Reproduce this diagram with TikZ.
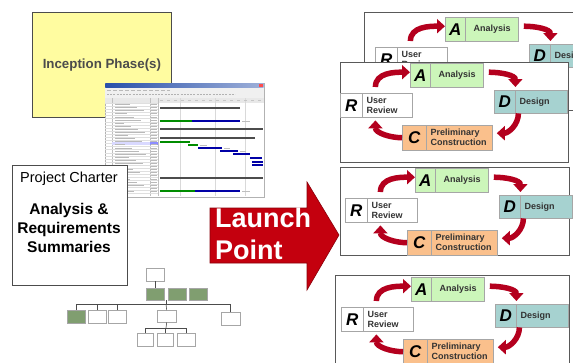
\documentclass[tikz,border=0pt]{standalone}
\usepackage{fontspec}
\setmainfont{Liberation Sans}
\usetikzlibrary{positioning,arrows.meta}

\definecolor{agreen}{RGB}{204,246,186}
\definecolor{dteal}{RGB}{166,210,208}
\definecolor{corange}{RGB}{250,192,140}
\definecolor{cycred}{RGB}{180,0,30}
\definecolor{launchred}{RGB}{196,0,14}
\definecolor{slideyellow}{RGB}{255,252,160}
\definecolor{orggreen}{RGB}{128,158,112}
\definecolor{ganttblue}{RGB}{40,80,170}

\tikzset{
letterbox/.style={draw=gray!70, anchor=north west, minimum height=24pt, inner sep=0pt,
  font=\bfseries\itshape\fontsize{17}{17}\selectfont},
tagbox/.style={draw=gray!70, anchor=north west, minimum height=24pt, inner xsep=4pt, inner ysep=0pt,
  align=left, text=black!80, font=\bfseries\fontsize{9}{10}\selectfont},
cyc/.style={draw=cycred, line width=5.5pt, -{Triangle[length=8pt,width=14pt]}},
cycle/.pic={
  %Boxes
  \node[letterbox, fill=agreen, minimum width=20pt] (-a) at (0,0) {A};
  \node[tagbox, fill=agreen, minimum width=53pt, align=center] (-at) at (-a.north east) {Analysis};
  \node[letterbox, fill=white, minimum width=22pt] (-r) at (-70,30) {R};
  \node[tagbox, fill=white, text width=42pt] (-rt) at (-r.north east) {User\\Review};
  \node[letterbox, fill=dteal, minimum width=21pt, minimum height=23pt] (-d) at (84,27) {D};
  \node[tagbox, fill=dteal, text width=44pt, minimum height=23pt] (-dt) at (-d.north east) {Design};
  \node[letterbox, fill=corange, minimum width=24pt, minimum height=25pt] (-c) at (-8,62) {C};
  \node[tagbox, fill=corange, text width=58pt, minimum height=25pt] (-ct) at (-c.north east) {Preliminary\\Construction};
  %Arrows
  \draw[cyc] ([shift={(13pt,6pt)}]-rt.north west) to[out=90,in=180] ([yshift=3pt]-a.west);
  \draw[cyc] ([shift={(5pt,3pt)}]-at.east) to[out=0,in=90] ([yshift=3pt]-dt.north west);
  \draw[cyc] ([xshift=3pt]-dt.south west) to[out=-90,in=0] ([shift={(4pt,4.5pt)}]-ct.east);
  \draw[cyc] (-c.west) to[out=180,in=-90] ([shift={(13pt,-3pt)}]-rt.south west);
}
}

\begin{document}
\begin{tikzpicture}[
x=1pt, y=-1pt,
slide/.style={draw=gray!60!black, line width=0.8pt, anchor=north west, inner sep=0pt},
panel/.style={draw=gray!70!black, fill=white, line width=0.8pt, anchor=north west, inner sep=0pt},
launchshape/.style={fill=launchred, draw=launchred!70!black, line width=0.6pt},
launchtext/.style={font=\bfseries\fontsize{27}{32}\selectfont, text=white, align=left, inner sep=0pt},
orgbox/.style={draw=gray!70, fill=white, line width=0.4pt, anchor=north west, inner sep=0pt,
  minimum width=18pt, minimum height=13pt},
orgdark/.style={orgbox, fill=orggreen},
orgline/.style={draw=gray!60!black, line width=0.6pt},
]
\clip (0,0) rectangle (573,362);
\fill[white] (0,0) rectangle (573,362);

%Slides
\node[slide, fill=slideyellow, minimum width=139pt, minimum height=105pt,
  font=\bfseries\fontsize{13.3}{16}\selectfont, text=black!70] (inception) at (32,12) {Inception Phase(s)};

%Gantt screenshot
\node[slide, fill=white, draw=gray!60, line width=0.5pt, minimum width=159pt, minimum height=114pt] (gantt) at (105,83) {};
\shade[left color=ganttblue, right color=ganttblue!45] (105.3,83.3) rectangle (263.7,87.6);
\fill[red!70] (259,84) rectangle (263,87);
\fill[gray!12] (105.3,87.6) rectangle (263.7,98);
\draw[gray!55, line width=0.8pt, dash pattern=on 4pt off 2pt] (107,90) -- (170,90);
\draw[gray!60, line width=1.4pt, dash pattern=on 2pt off 1.2pt] (107,94.5) -- (235,94.5);
\fill[gray!18] (105.3,98) rectangle (263.7,103);
\draw[gray!50, line width=0.3pt] (112,98) -- (112,196) (150,98) -- (150,196) (158,98) -- (158,196);
\draw[gray!30, line width=0.3pt] (180,98) -- (180,196) (215,98) -- (215,196) (245,98) -- (245,196);
\foreach \y in {103,106.1,...,196} \draw[gray!25, line width=0.2pt] (105.3,\y) -- (158,\y);
\fill[blue!15] (112,141.6) rectangle (150,144.6);
\fill[blue!45] (150,141.6) rectangle (158,144.6);
\foreach \y [count=\i] in {104.6,107.7,...,194} {
  \pgfmathsetmacro\w{8+mod(\i*7,24)}
  \draw[gray!55, line width=0.9pt] (115,\y) -- ++(\w,0);
  \draw[gray!55, line width=0.9pt] (151,\y) -- (157,\y);
}
\draw[gray!45, line width=0.9pt, dash pattern=on 3pt off 4pt] (160,100.5) -- (262,100.5);
\draw[gray!60!black, line width=1.2pt] (160,108) -- (240,108) (160,129) -- (263,129)
  (160,138) -- (255,138) (160,178) -- (263,178);
\draw[green!55!black, line width=2pt] (160,121) -- (192,121) (160,142) -- (190,142)
  (188,145) -- (198,145) (160,191) -- (195,191);
\draw[blue!65!black, line width=2pt] (192,121) -- (240,121) (198,148) -- (222,148)
  (220,151) -- (238,151) (233,154) -- (250,154) (250,157.5) -- (262,157.5)
  (252,162) -- (263,162) (252,165) -- (263,165) (195,191) -- (240,191);
\draw[gray!50, line width=0.6pt] (242,121) -- (250,121) (200,145) -- (207,145)
  (224,148) -- (230,148) (240,151) -- (246,151) (242,191) -- (250,191);

%Charter slide
\node[slide, draw=black!70, fill=white, minimum width=115pt, minimum height=120pt] (charter) at (12,165) {};
\node[font=\fontsize{14.5}{17}\selectfont, anchor=base] (chartertitle) at (69,182) {Project Charter};
\node[font=\bfseries\fontsize{15.5}{19}\selectfont, align=center, anchor=north] (charterbody) at (69,200) {Analysis \&\\Requirements\\Summaries};

%Org chart
\node[orgbox] (home) at (146,268) {};
\node[orgdark, minimum height=12pt] (o1) at (146,288) {};
\node[orgdark, minimum height=12pt] (o2) at (168,288) {};
\node[orgdark, minimum height=12pt] (o3) at (189,288) {};
\node[orgdark] (o4) at (67,310) {};
\node[orgbox] (o5) at (88,310) {};
\node[orgbox] (o6) at (108,310) {};
\node[orgbox, minimum width=19pt, minimum height=12pt] (o7) at (157,310) {};
\node[orgbox, minimum width=19pt] (o8) at (221,312) {};
\node[orgbox, minimum width=16pt] (o9) at (137,333) {};
\node[orgbox, minimum width=16pt] (o10) at (157,333) {};
\node[orgbox] (o11) at (177,333) {};
\coordinate (bus1) at (166,304);
\coordinate (bus2) at (166,328);
\draw[orgline] (home.south) -- (o1.north);
\draw[orgline] (bus1) -- (bus1 |- o1.south);
\draw[orgline] (o4.north) |- (bus1);
\draw[orgline] (o5.north) |- (bus1);
\draw[orgline] (o6.north) |- (bus1);
\draw[orgline] (o7.north) -- (bus1);
\draw[orgline] (o8.north) |- (bus1);
\draw[orgline] (o7.south) -- (bus2);
\draw[orgline] (o9.north) |- (bus2);
\draw[orgline] (o10.north) |- (bus2);
\draw[orgline] (o11.north) |- (bus2);

%Launch arrow
\filldraw[launchshape] (210,208) -- (307,208) -- (307,182) -- (339,235) -- (307,290) -- (307,263) -- (210,263) -- cycle;
\node[launchtext, anchor=north west] (launchlabel) at (215,208) {Launch\\Point};

%Cycle panels
\node[panel, minimum width=240pt, minimum height=98pt] (pan1) at (364,12) {};
\pic (cyc1) at (445,17) {cycle};
\node[panel, minimum width=228pt, minimum height=100pt] (pan2) at (340,62) {};
\pic (cyc2) at (410,63) {cycle};
\node[panel, minimum width=229pt, minimum height=88pt] (pan3) at (340,167) {};
\pic (cyc3) at (415,168) {cycle};
\node[panel, minimum width=234pt, minimum height=100pt] (pan4) at (335,275) {};
\pic (cyc4) at (411,277) {cycle};

\end{tikzpicture}
\end{document}
